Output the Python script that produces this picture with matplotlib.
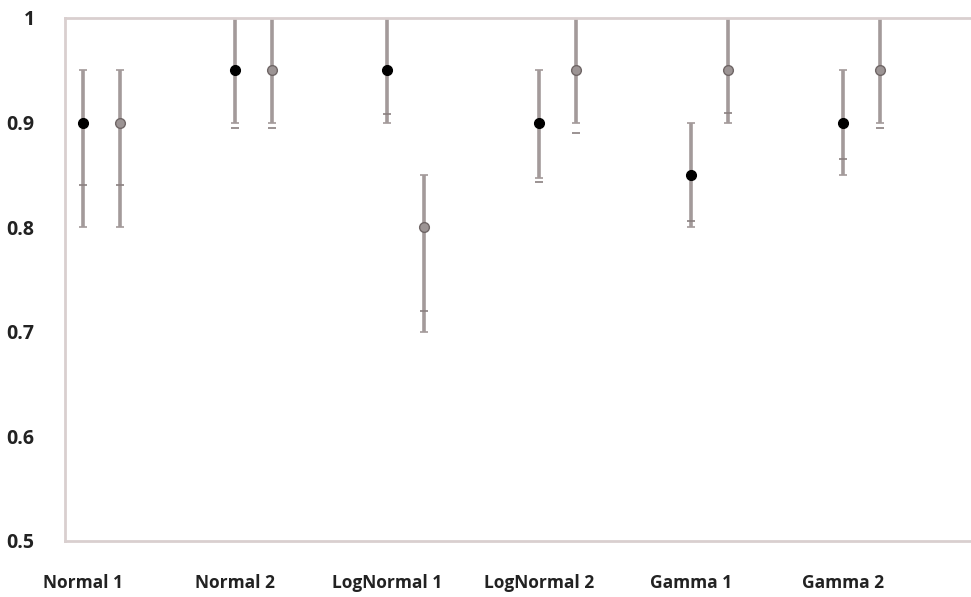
import numpy as np
import matplotlib.pyplot as plt

plt.rcParams['font.family'] = ['Open Sans', 'DejaVu Sans']

categories = ['Normal 1', 'Normal 2', 'LogNormal 1', 'LogNormal 2', 'Gamma 1', 'Gamma 2']

# first series (black points)
est_a = [0.90, 0.95, 0.95, 0.90, 0.85, 0.90]
lo_a = [0.80, 0.90, 0.90, 0.847, 0.80, 0.85]
hi_a = [0.95, 1.00, 1.00, 0.95, 0.90, 0.95]
mid_a = [0.84, 0.895, 0.908, 0.843, 0.806, 0.865]

# second series (grey points)
est_b = [0.90, 0.95, 0.80, 0.95, 0.95, 0.95]
lo_b = [0.80, 0.90, 0.70, 0.90, 0.90, 0.90]
hi_b = [0.95, 1.00, 0.85, 1.00, 1.00, 1.00]
mid_b = [0.84, 0.895, 0.72, 0.89, 0.909, 0.895]

x = np.arange(len(categories))
offset = 0.245
bar_col = '#a39a9a'

fig = plt.figure(figsize=(9.71, 5.97), dpi=100)
ax = fig.add_axes([0.067, 0.094, 0.95, 0.876])

for xs, est, lo, hi, mid, fc, ec in [
    (x, est_a, lo_a, hi_a, mid_a, 'black', 'black'),
    (x + offset, est_b, lo_b, hi_b, mid_b, '#9c9494', '#6f6666'),
]:
    est = np.array(est)
    err = [est - np.array(lo), np.array(hi) - est]
    ax.errorbar(xs, est, yerr=err, fmt='none', ecolor=bar_col, elinewidth=2.6,
                capsize=3, capthick=1.2, zorder=2)
    ax.plot(xs, mid, linestyle='none', marker='_', markersize=6,
            markeredgewidth=1.2, color='#8a8080', zorder=3)
    ax.plot(xs, est, linestyle='none', marker='o', markersize=7,
            markerfacecolor=fc, markeredgecolor=ec, markeredgewidth=1, zorder=4)

ax.set_ylim(0.5, 1.0)
ax.set_xlim(-0.118, 5.95)
ax.set_yticks([0.5, 0.6, 0.7, 0.8, 0.9, 1.0])
ax.set_yticklabels(['0.5', '0.6', '0.7', '0.8', '0.9', '1'])
ax.set_xticks(x)
ax.set_xticklabels(categories)

for side in ['left', 'top', 'bottom']:
    ax.spines[side].set_color('#d9cfcf')
    ax.spines[side].set_linewidth(2)
ax.spines['right'].set_visible(False)

ax.tick_params(axis='y', length=0, pad=22, labelsize=14, labelcolor='#222222')
ax.tick_params(axis='x', length=0, pad=24, labelsize=12.5, labelcolor='#222222')
for lab in ax.get_xticklabels() + ax.get_yticklabels():
    lab.set_fontweight('bold')

fig.savefig('out.png', dpi=100)
